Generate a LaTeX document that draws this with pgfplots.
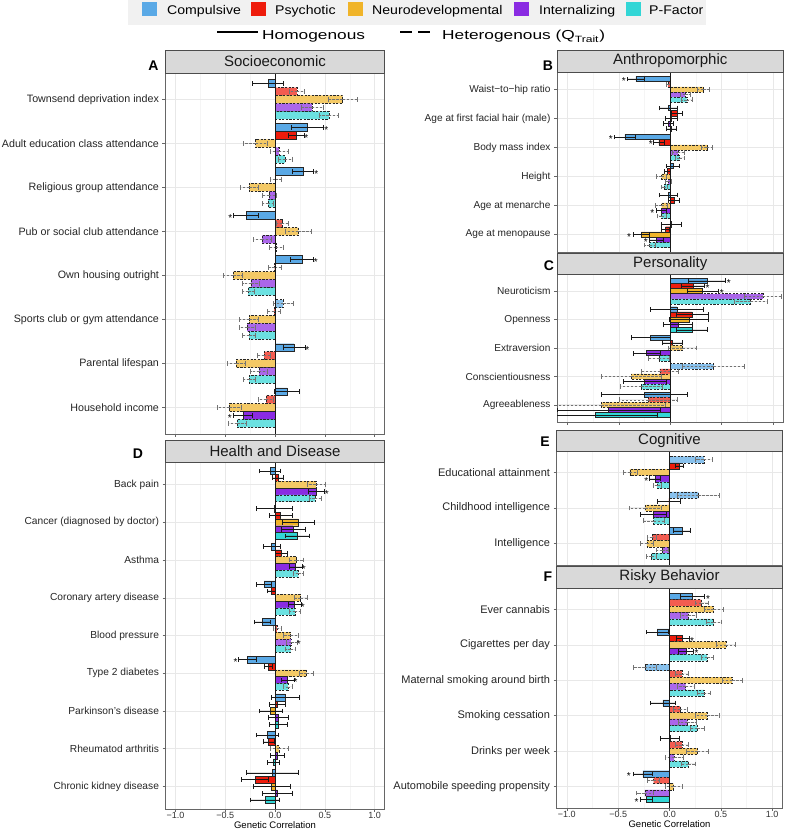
\documentclass[border=0pt]{standalone}
\usepackage{fontspec}
\setmainfont{Liberation Sans}
\usepackage{graphicx}
\usepackage{pgfplots}
\pgfplotsset{compat=1.18}
\usepackage{pgfplotstable}

\definecolor{cComp}{RGB}{90,169,230}
\definecolor{cPsy}{RGB}{238,28,12}
\definecolor{cNeu}{RGB}{240,180,41}
\definecolor{cInt}{RGB}{138,43,226}
\definecolor{cPF}{RGB}{50,214,214}
\definecolor{legbg}{RGB}{241,241,241}
\definecolor{stripbg}{RGB}{217,217,217}

% one row per trait (cat 1 = top). For each factor k (c Compulsive, p Psychotic, n Neurodevelopmental,
% i Internalizing, f P-Factor): kS = estimate if homogenous, kD = estimate if heterogenous,
% kE = half width of the interval, kX = position of the significance asterisk (nan = none)
\pgfplotstableread{
cat cS cD cE cX pS pD pE pX nS nD nE nX iS iD iE iX fS fD fE fX
1 -0.07 nan 0.155 nan  nan 0.22 0.075 nan  nan 0.68 0.145 nan  nan 0.37 0.11 nan  nan 0.54 0.10 nan
2 0.32 nan 0.16 0.515  0.21 nan 0.08 0.315  nan -0.195 0.12 nan  nan 0.04 0.09 nan  nan 0.10 0.07 nan
3 0.28 nan 0.105 0.415  nan 0.005 0.055 nan  nan -0.26 0.09 nan  nan -0.06 0.07 nan  nan -0.07 0.055 nan
4 -0.29 nan 0.125 -0.45  nan 0.07 0.06 nan  nan 0.235 0.13 nan  nan -0.13 0.09 nan  nan 0.01 0.07 nan
5 0.27 nan 0.115 0.41  nan -0.005 0.065 nan  nan -0.42 0.095 nan  nan -0.24 0.085 nan  nan -0.27 0.06 nan
6 nan 0.085 0.10 nan  nan -0.01 0.065 nan  nan -0.26 0.095 nan  nan -0.28 0.08 nan  nan -0.26 0.065 nan
7 0.19 nan 0.11 0.325  nan -0.11 0.065 nan  nan -0.39 0.09 nan  nan -0.16 0.085 nan  nan -0.26 0.06 nan
8 0.12 nan 0.125 nan  nan -0.09 0.075 nan  nan -0.46 0.12 nan  -0.32 nan 0.095 -0.455  nan -0.38 0.09 nan
}\tabA

\pgfplotstableread{
cat cS cD cE cX pS pD pE pX nS nD nE nX iS iD iE iX fS fD fE fX
1 -0.334 nan 0.08 -0.45  nan -0.02 0.02 nan  nan 0.32 0.055 nan  nan 0.145 0.05 nan  nan 0.16 0.05 nan
2 -0.02 nan 0.085 nan  0.065 nan 0.055 nan  0.01 nan 0.06 nan  -0.02 nan 0.05 nan  0.01 nan 0.05 nan
3 -0.44 nan 0.10 -0.578  -0.11 nan 0.055 -0.19  nan 0.355 0.055 nan  nan 0.075 0.06 nan  nan 0.09 0.045 nan
4 0.025 nan 0.06 nan  -0.025 nan 0.03 nan  nan -0.085 0.05 nan  nan -0.02 0.03 nan  nan -0.06 0.03 nan
5 -0.02 nan 0.085 nan  0.035 nan 0.05 nan  nan -0.085 0.06 nan  -0.085 nan 0.05 -0.175  nan -0.085 0.045 nan
6 0.01 nan 0.10 nan  -0.045 nan 0.04 nan  -0.28 nan 0.08 -0.40  -0.135 nan 0.07 -0.238  nan -0.20 0.055 nan
}\tabB

\pgfplotstableread{
cat cS cD cE cX pS pD pE pX nS nD nE nX iS iD iE iX fS fD fE fX
1 0.355 nan 0.18 0.57  0.22 nan 0.11 0.363  0.315 nan 0.15 0.50  nan 0.90 0.18 nan  nan 0.78 0.16 nan
2 0.065 nan 0.26 nan  0.21 nan 0.155 nan  0.18 nan 0.19 nan  0.075 nan 0.14 nan  0.21 nan 0.15 nan
3 -0.19 nan 0.19 nan  0.02 nan 0.10 nan  nan 0.12 0.135 nan  -0.23 nan 0.13 nan  nan -0.11 0.10 nan
4 nan 0.42 0.30 nan  nan -0.10 0.18 nan  nan -0.38 0.29 nan  -0.25 nan 0.21 nan  nan -0.28 0.205 nan
5 -0.25 nan 0.42 nan  nan -0.215 0.28 nan  nan -0.67 0.625 nan  -0.60 nan 0.50 nan  -0.725 nan 0.60 nan
}\tabC

\pgfplotstableread{
cat cS cD cE cX pS pD pE pX nS nD nE nX iS iD iE iX fS fD fE fX
1 -0.05 nan 0.105 nan  0.03 nan 0.055 nan  nan 0.41 0.09 nan  0.415 nan 0.08 0.52  nan 0.40 0.06 nan
2 -0.005 nan 0.18 nan  0.057 nan 0.117 nan  0.234 nan 0.16 nan  0.18 nan 0.12 nan  0.224 nan 0.12 nan
3 -0.035 nan 0.087 nan  0.067 nan 0.06 nan  nan 0.214 0.07 nan  0.207 nan 0.068 0.29  nan 0.234 0.05 nan
4 -0.11 nan 0.074 nan  -0.037 nan 0.04 nan  nan 0.257 0.065 nan  0.197 nan 0.065 0.28  nan 0.20 0.055 nan
5 -0.127 nan 0.08 nan  nan 0.02 0.04 nan  nan 0.157 0.075 nan  nan 0.164 0.055 0.24  nan 0.157 0.05 nan
6 -0.278 nan 0.087 -0.395  -0.067 nan 0.04 nan  nan 0.318 0.07 nan  0.124 nan 0.065 0.207  nan 0.13 0.045 nan
7 0.10 nan 0.14 nan  0.023 nan 0.08 nan  -0.045 nan 0.115 nan  0.03 nan 0.10 nan  0.03 nan 0.09 nan
8 -0.077 nan 0.11 nan  -0.067 nan 0.055 nan  nan 0.04 0.09 nan  0.023 nan 0.07 nan  -0.017 nan 0.063 nan
9 -0.027 nan 0.257 nan  -0.20 nan 0.135 nan  -0.033 nan 0.19 nan  0.023 nan 0.155 nan  -0.10 nan 0.145 nan
}\tabD

\pgfplotstableread{
cat cS cD cE cX pS pD pE pX nS nD nE nX iS iD iE iX fS fD fE fX
1 nan 0.334 0.08 nan  0.096 nan 0.04 nan  nan -0.385 0.068 nan  -0.14 nan 0.055 -0.225  nan -0.12 0.04 nan
2 nan 0.28 0.20 nan  -0.005 nan 0.11 nan  nan -0.235 0.155 nan  -0.155 nan 0.125 nan  nan -0.155 0.105 nan
3 0.12 nan 0.085 nan  nan -0.17 0.045 nan  nan -0.22 0.065 nan  nan -0.07 0.055 nan  nan -0.175 0.05 nan
}\tabE

\pgfplotstableread{
cat cS cD cE cX pS pD pE pX nS nD nE nX iS iD iE iX fS fD fE fX
1 0.22 nan 0.12 0.376  nan 0.31 0.063 nan  nan 0.43 0.09 nan  nan 0.183 0.08 nan  nan 0.43 0.07 nan
2 -0.12 nan 0.105 nan  0.128 nan 0.06 0.22  nan 0.55 0.09 nan  0.16 nan 0.075 0.263  nan 0.366 0.06 nan
3 nan -0.24 0.11 nan  nan 0.12 0.06 nan  nan 0.61 0.10 nan  nan 0.157 0.08 nan  nan 0.334 0.065 nan
4 -0.064 nan 0.12 nan  nan 0.103 0.07 nan  nan 0.366 0.115 nan  nan 0.173 0.085 nan  nan 0.27 0.07 nan
5 0.005 nan 0.09 nan  nan 0.12 0.06 nan  nan 0.273 0.105 nan  nan 0.045 0.085 nan  nan 0.183 0.065 nan
6 -0.26 nan 0.095 -0.395  nan -0.155 0.06 nan  nan 0.04 0.085 nan  nan -0.24 0.08 nan  -0.225 nan 0.06 -0.32
}\tabF

\pgfplotsset{
  hom/.style={xbar, bar width=0.18, bar shift=0pt, draw=black!85, line width=0.45pt,
    error bars/x dir=both, error bars/x explicit, error bars/error mark=|,
    error bars/error bar style={black!90, line width=0.55pt, solid},
    error bars/error mark options={black!90, mark size=2.4pt, line width=0.55pt, solid}},
  het/.style={xbar, bar width=0.18, bar shift=0pt, draw=black!85, line width=0.45pt,
    dash pattern=on 2.2pt off 1.4pt,
    error bars/x dir=both, error bars/x explicit, error bars/error mark=|,
    error bars/error bar style={black!55, line width=0.55pt, dash pattern=on 2.4pt off 1.6pt},
    error bars/error mark options={black!55, mark size=2.4pt, line width=0.55pt, solid}},
  starp/.style={only marks, mark=text, text mark={*}, text mark as node=true,
    text mark style={font=\fontsize{10}{10}\selectfont, yshift=-2.2pt, inner sep=0pt}},
  panel/.style={scale only axis, xmin=-1.1, xmax=1.1,
    axis line style={black!60, line width=0.6pt},
    tick style={black!60, line width=0.5pt}, major tick length=3pt, tick align=outside, tick pos=left,
    xtick={-1,-0.5,0,0.5,1}, xticklabels={,,,,},
    minor xtick={-0.75,-0.25,0.25,0.75}, minor tick length=0pt,
    grid=both, major grid style={black!9, line width=0.5pt}, minor grid style={black!4, line width=0.3pt},
    yticklabel style={text=black!85},
    anchor=south west},
  bottompanel/.style={xticklabels={−1.0,−0.5,0.0,0.5,1.0},
    xticklabel style={font=\fontsize{9}{10}\selectfont, text=black!80, yshift=3.5pt},
    xlabel={Genetic Correlation}, xlabel style={font=\fontsize{9.5}{10}\selectfont, yshift=3.5pt}},
}

% #1 table, #2 number of traits, #3 factor index (0 = top bar), #4 column letter, #5 colour
\newcommand{\onebar}[5]{%
  \addplot[hom, fill=#5]
    table[x=#4S, y expr={#2+1-\thisrow{cat}-(#3-2)*0.18}, x error=#4E] {#1};
  \addplot[het, fill=#5!72!white]
    table[x=#4D, y expr={#2+1-\thisrow{cat}-(#3-2)*0.18}, x error=#4E] {#1};
  \addplot[starp]
    table[x=#4X, y expr={#2+1-\thisrow{cat}-(#3-2)*0.18}] {#1};
}
\newcommand{\allbars}[2]{%
  \onebar{#1}{#2}{0}{c}{cComp}\onebar{#1}{#2}{1}{p}{cPsy}\onebar{#1}{#2}{2}{n}{cNeu}%
  \onebar{#1}{#2}{3}{i}{cInt}\onebar{#1}{#2}{4}{f}{cPF}%
  \draw[black!90, line width=0.6pt] (axis cs:0,0.4) -- (axis cs:0,#2+0.6);}

\newcommand{\strip}[5]{% x1 y1 x2 y2 text
  \draw[fill=stripbg, draw=black!70, line width=0.6pt] (#1pt,#2pt) rectangle (#3pt,#4pt);
  \node[font=\fontsize{15}{15}\selectfont, text=black!90] at ({(#1+#3)/2*1pt},{(#2+#4)/2*1pt}) {#5};}

\begin{document}
\begin{tikzpicture}
\path[use as bounding box] (0pt,0pt) rectangle (788pt,832pt);
\fill[white] (0pt,0pt) rectangle (788pt,832pt);

% ---- Panel A
\begin{axis}[panel, at={(165.5pt,398pt)}, width=219pt, height=361pt, ymin=0.4, ymax=8.6,
  ytick={1,...,8}, yticklabel style={font=\fontsize{10.7}{12}\selectfont},
  yticklabels={Household income, Parental lifespan, Sports club or gym attendance, Own housing outright,
    Pub or social club attendance, Religious group attendance, Adult education class attendance,
    Townsend deprivation index}]
\allbars{\tabA}{8}
\end{axis}

% ---- Panel D
\begin{axis}[panel, bottompanel, at={(165.5pt,23pt)}, width=219pt, height=347pt, ymin=0.4, ymax=9.6,
  ytick={1,...,9}, yticklabel style={font=\fontsize{10.2}{12}\selectfont},
  yticklabels={Chronic kidney disease, Rheumatod arthritis, Parkinson's disease, Type 2 diabetes,
    Blood pressure, Coronary artery disease, Asthma, Cancer (diagnosed by doctor), Back pain}]
\allbars{\tabD}{9}
\end{axis}

% ---- Panel B
\begin{axis}[panel, at={(557pt,580pt)}, width=226.5pt, height=180pt, ymin=0.4, ymax=6.6,
  ytick={1,...,6}, yticklabel style={font=\fontsize{10.1}{12}\selectfont},
  yticklabels={Age at menopause, Age at menarche, Height, Body mass index,
    Age at first facial hair (male), Waist−to−hip ratio}]
\allbars{\tabB}{6}
\end{axis}

% ---- Panel C
\begin{axis}[panel, at={(557pt,410pt)}, width=226.5pt, height=148pt, ymin=0.4, ymax=5.6,
  ytick={1,...,5}, yticklabel style={font=\fontsize{10.1}{12}\selectfont},
  yticklabels={Agreeableness, Conscientiousness, Extraversion, Openness, Neuroticism}]
\allbars{\tabC}{5}
\end{axis}

% ---- Panel E
\begin{axis}[panel, at={(556.5pt,267pt)}, width=226pt, height=114pt, ymin=0.4, ymax=3.6,
  ytick={1,...,3}, yticklabel style={font=\fontsize{11}{12}\selectfont},
  yticklabels={Intelligence, Childhood intelligence, Educational attainment}]
\allbars{\tabE}{3}
\end{axis}

% ---- Panel F
\begin{axis}[panel, bottompanel, at={(556.5pt,24pt)}, width=226pt, height=220pt, ymin=0.4, ymax=6.6,
  ytick={1,...,6}, yticklabel style={font=\fontsize{11}{12}\selectfont},
  yticklabels={Automobile speeding propensity, Drinks per week, Smoking cessation,
    Maternal smoking around birth, Cigarettes per day, Ever cannabis}]
\allbars{\tabF}{6}
\end{axis}

% ---- strips
\strip{165.5}{759}{384.5}{782}{Socioeconomic}
\strip{165.5}{370}{384.5}{392}{Health and Disease}
\strip{557}{760}{783.5}{782}{Anthropomorphic}
\strip{557}{558}{783.5}{579}{Personality}
\strip{556.5}{381}{782.5}{402}{Cognitive}
\strip{556.5}{244}{782.5}{266}{Risky Behavior}

% ---- panel letters
\begin{scope}[every node/.style={font=\bfseries\fontsize{14}{14}\selectfont}]
\node at (153.5pt,766pt) {A};
\node at (548pt,766pt) {B};
\node at (549pt,566pt) {C};
\node at (138pt,378pt) {D};
\node at (545pt,390pt) {E};
\node at (548pt,255pt) {F};
\end{scope}

% ---- legend
\fill[legbg] (128pt,807pt) rectangle (706pt,832pt);
\fill[cComp] (142pt,816pt) rectangle (157pt,830pt);
\fill[cPsy]  (251pt,816pt) rectangle (266pt,830pt);
\fill[cNeu]  (348pt,816pt) rectangle (363pt,830pt);
\fill[cInt]  (514pt,816pt) rectangle (529pt,830pt);
\fill[cPF]   (626pt,816pt) rectangle (641pt,830pt);
\begin{scope}[every node/.style={anchor=base west, inner sep=0pt}]
\node at (167pt,817pt) {\scalebox{1.12}[1]{\fontsize{12.6}{13}\selectfont Compulsive}};
\node at (275pt,817pt) {\scalebox{1.12}[1]{\fontsize{12.6}{13}\selectfont Psychotic}};
\node at (372pt,817pt) {\scalebox{1.12}[1]{\fontsize{12.6}{13}\selectfont Neurodevelopmental}};
\node at (539pt,817pt) {\scalebox{1.12}[1]{\fontsize{12.6}{13}\selectfont Internalizing}};
\node at (649pt,817pt) {\scalebox{1.12}[1]{\fontsize{12.6}{13}\selectfont P-Factor}};
\node at (262pt,792pt) {\scalebox{1.33}[1]{\fontsize{13}{14}\selectfont Homogenous}};
\node at (442pt,792pt) {\scalebox{1.33}[1]{\fontsize{13}{14}\selectfont Heterogenous (Q\textsubscript{Trait})}};
\end{scope}
\draw[line width=1.7pt] (217pt,800pt) -- (258pt,800pt);
\draw[line width=1.7pt, dash pattern=on 12pt off 6pt] (400pt,800pt) -- (430pt,800pt);
\end{tikzpicture}
\end{document}
